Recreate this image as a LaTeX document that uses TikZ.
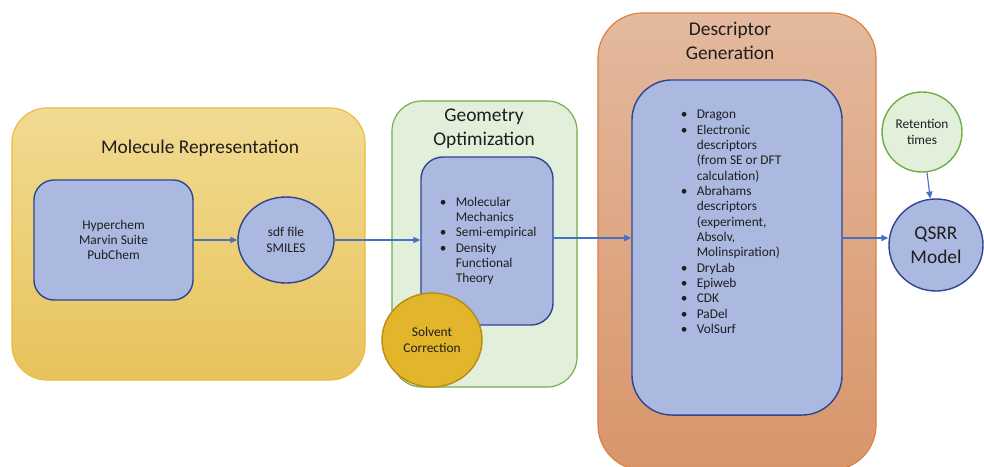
\documentclass[tikz,border=0pt]{standalone}
\usepackage{fontspec}
\setmainfont{Carlito}
\usepackage{tikz}
\usetikzlibrary{positioning}
\usetikzlibrary{shapes.geometric,arrows.meta}

% colours
\definecolor{ink}{HTML}{1E1E1E}
\definecolor{molTop}{HTML}{F1DA92}
\definecolor{molBot}{HTML}{E8C35A}
\definecolor{molLine}{HTML}{EDBB3A}
\definecolor{geoFill}{HTML}{E2EFDA}
\definecolor{geoLine}{HTML}{70AD47}
\definecolor{desTop}{HTML}{E4B99E}
\definecolor{desBot}{HTML}{D8956A}
\definecolor{desLine}{HTML}{E07F3C}
\definecolor{toolFill}{HTML}{ABB9E1}
\definecolor{toolLine}{HTML}{2F4590}
\definecolor{solvFill}{HTML}{E2B52A}
\definecolor{solvLine}{HTML}{B58B10}
\definecolor{flowBlue}{HTML}{4472C4}

\newcommand{\titletxt}{\fontsize{13.8}{17}\selectfont}
\newcommand{\smalltxt}{\fontsize{9.5}{10.9}\selectfont}

\tikzset{
	stage/.style={rectangle, inner sep=0pt, line width=0.8pt},
	tool/.style={rectangle, draw=toolLine, fill=toolFill, line width=1pt,
		inner sep=0pt, align=center, text=ink, font=\smalltxt},
	bubble/.style={ellipse, inner sep=0pt, line width=1pt, align=center,
		text=ink, font=\smalltxt},
	flow/.style={draw=flowBlue, line width=0.8pt,
		-{Triangle[length=5pt,width=4.5pt]}},
}

\begin{document}
\begin{tikzpicture}[x=0.025cm, y=-0.025cm]
	
	\useasboundingbox (0,0) rectangle (984,466);
	
	% the three stages, drawn first so that everything sits on top
	\node[stage, draw=molLine, top color=molTop, bottom color=molBot,
		rounded corners=0.875cm, minimum width=8.825cm, minimum height=6.8cm]
		(MolStage) at (188.5,244) {};
	\node[stage, draw=geoLine, fill=geoFill,
		rounded corners=0.75cm, minimum width=4.625cm, minimum height=7.15cm]
		(GeoStage) at (484.5,244) {};
	\node[stage, draw=desLine, top color=desTop, bottom color=desBot,
		rounded corners=1.125cm, minimum width=6.95cm, minimum height=11.425cm]
		(DesStage) at (737,241.5) {};
	
	% stage titles
	\node[font=\titletxt, text=ink] (MolTitle) at (200,148) {Molecule Representation};
	\node[font=\titletxt, text=ink, align=center] (GeoTitle) at (484,129) {Geometry\\Optimization};
	\node[font=\titletxt, text=ink, align=center] (DesTitle) at (730,41) {Descriptor\\Generation};
	
	%%%%%%%%%%%%%%%%%%%%%%%%%%%%%%%%%%%%%%%%%%%%%%%%%%%%%%%%%%%%%%
	% Molecule representation
	\node[tool, rounded corners=0.5cm, minimum width=3.975cm, minimum height=3cm]
		(Hyper) at (113.5,240) {Hyperchem\\Marvin Suite\\PubChem};
	\node[bubble, draw=toolLine, fill=toolFill, minimum width=2.4cm, minimum height=2.15cm]
		(Sdf) at (286,240) {sdf file\\SMILES};
	
	% Geometry optimization
	\node[tool, rounded corners=0.55cm, minimum width=3.3cm, minimum height=4.2cm]
		(Geo) at (487,241) {};
	\node[anchor=west, font=\smalltxt, text=ink] (GeoList) at (435,241.5) {%
		\begin{tabular}{@{}l@{\hspace{6.5pt}}l@{}}
			\textbullet & Molecular\\
			            & Mechanics\\
			\textbullet & Semi-empirical\\
			\textbullet & Density\\
			            & Functional\\
			            & Theory
		\end{tabular}};
	\node[bubble, draw=solvLine, fill=solvFill, minimum width=2.5cm, minimum height=2.35cm]
		(Solvent) at (432,340) {Solvent\\Correction};
	
	% Descriptor generation
	\node[tool, rounded corners=1cm, minimum width=5.25cm, minimum height=8.375cm]
		(Des) at (737,247.5) {};
	\node[anchor=west, font=\smalltxt, text=ink] (DesList) at (676,223) {%
		\begin{tabular}{@{}l@{\hspace{6.5pt}}l@{}}
			\textbullet & Dragon\\
			\textbullet & Electronic\\
			            & descriptors\\
			            & (from SE or DFT\\
			            & calculation)\\
			\textbullet & Abrahams\\
			            & descriptors\\
			            & (experiment,\\
			            & Absolv,\\
			            & Molinspiration)\\
			\textbullet & DryLab\\
			\textbullet & Epiweb\\
			\textbullet & CDK\\
			\textbullet & PaDel\\
			\textbullet & VolSurf
		\end{tabular}};
	
	% model
	\node[bubble, circle, draw=geoLine, fill=geoFill, minimum size=2cm]
		(Ret) at (922,132) {Retention\\times};
	\node[bubble, draw=toolLine, fill=toolFill, minimum width=2.35cm, minimum height=2.3cm,
		font=\titletxt, text=ink]
		(Qsrr) at (936,245) {QSRR\\Model};
	
	% flow level of the main chain
	\coordinate (Lvl) at (0,238);
	
	%%%%%%%%%%%%%%%%%%%%%%%%%%%%%%%%%%%%%%%%%%%%%%%%%%%%%%%%%%%%%%
	\draw[flow] (Hyper.east) -- (Sdf.west);
	\draw[flow] (Sdf.east) -- (Sdf.east -| Geo.west);
	\draw[flow] (Geo.east |- Lvl) -- (Des.west |- Lvl);
	\draw[flow] (Des.east |- Lvl) -- (Qsrr.west |- Lvl);
	\draw[flow] (Ret) -- (Qsrr);
	
\end{tikzpicture}
\end{document}
